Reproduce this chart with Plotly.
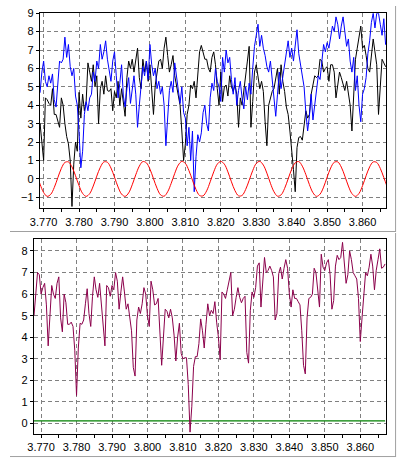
import plotly.graph_objects as go

# ---------------- data ----------------
x_start = 3.768
x_step = 0.0005
n_pts = 199
x = [round(x_start + x_step * i, 4) for i in range(n_pts)]

blue = [4.5, 4.6, 4.7, 5.8, 6.4, 5.3, 5.0, 5.6, 5.2, 5.7,
        4.3, 3.9, 5.2, 6.4, 6.3, 6.5, 7.7, 6.6, 7.3, 6.1,
        5.6, 6.0, 4.5, 4.0, 2.5, 0.6, 1.5, 3.5, 4.2, 3.7,
        4.4, 4.6, 5.8, 5.3, 6.4, 6.0, 7.3, 6.5, 6.9, 7.5,
        6.5, 6.0, 5.3, 6.4, 6.9, 5.6, 4.4, 5.2, 6.2, 4.5,
        3.9, 4.9, 5.5, 4.1, 4.8, 5.6, 4.6, 2.8, 4.0, 5.0,
        6.1, 5.6, 6.4, 5.4, 7.3, 6.2, 5.6, 6.0, 4.9, 5.3,
        4.6, 5.0, 4.0, 1.8, 3.6, 4.8, 5.3, 4.7, 6.3, 5.6,
        5.0, 4.1, 5.0, 3.6, 3.3, 1.8, 2.8, 1.0, 2.6, -0.7,
        1.2, 2.4, 2.0, 2.5, 3.6, 4.0, 3.0, 2.6, 4.4, 5.2,
        4.8, 6.0, 5.3, 5.0, 4.2, 6.6, 5.8, 7.0, 6.3, 6.6,
        5.4, 4.6, 5.5, 4.0, 4.8, 5.3, 4.4, 3.8, 5.0, 4.3,
        5.2, 4.6, 6.0, 7.2, 7.8, 8.4, 7.2, 7.8, 7.1, 6.7,
        6.1, 5.8, 6.4, 5.3, 4.5, 3.4, 4.6, 5.8, 4.9, 5.6,
        6.2, 7.0, 7.5, 6.6, 7.1, 6.4, 7.4, 8.1, 6.8, 6.2,
        5.8, 5.0, 3.6, 2.6, 3.4, 4.6, 3.2, 4.1, 4.9, 5.6,
        5.4, 6.6, 7.3, 6.9, 7.4, 7.1, 7.8, 8.3, 8.0, 8.8,
        8.4, 7.6, 8.3, 8.8, 8.0, 7.2, 7.6, 6.4, 5.8, 6.6,
        4.8, 5.6, 4.0, 3.1, 4.6, 4.9, 5.5, 6.8, 7.5, 8.5,
        9.0, 8.2, 9.0, 9.0, 8.4, 7.8, 8.7, 7.3, 7.3]

black = [3.5, 2.5, 3.0, 1.9, 1.0, 4.4, 4.3, 4.1, 4.0, 4.9,
         3.5, 3.5, 3.2, 2.8, 4.4, 4.0, 3.0, 2.3, 1.9, 1.0,
         -1.5, 0.8, 2.0, 1.5, 4.7, 3.3, 4.6, 3.7, 4.2, 6.3,
         5.8, 5.3, 6.2, 5.0, 5.6, 3.0, 4.9, 5.3, 4.6, 5.6,
         4.8, 4.75, 4.9, 3.7, 4.75, 4.4, 5.3, 4.0, 4.9, 4.0,
         3.4, 5.5, 6.4, 6.0, 6.5, 5.8, 6.6, 7.1, 5.5, 4.9,
         6.5, 5.8, 6.4, 5.3, 6.2, 4.6, 3.5, 5.1, 5.8, 6.4,
         6.5, 6.0, 7.1, 7.7, 6.7, 5.8, 6.2, 6.7, 5.6, 5.1,
         4.6, 4.0, 2.6, 1.0, 1.9, 3.5, 4.0, 5.1, 4.9, 5.3,
         4.4, 5.8, 6.9, 7.25, 6.9, 6.5, 6.5, 6.0, 5.8, 6.6,
         6.9, 6.2, 4.9, 4.0, 5.8, 4.2, 5.0, 5.1, 4.5, 5.6,
         5.0, 4.75, 5.1, 4.6, 2.8, 4.4, 4.0, 4.9, 5.6, 6.4,
         7.2, 2.8, 4.2, 5.8, 6.2, 5.6, 4.9, 5.3, 4.75, 3.1,
         1.8, 4.0, 4.4, 4.75, 4.9, 5.6, 6.0, 4.6, 6.2, 5.3,
         4.75, 3.9, 3.5, 2.6, 1.7, 0.5, -0.7, 1.7, 2.25, 2.3,
         2.1, 2.8, 3.7, 3.3, 3.5, 4.6, 5.2, 5.6, 5.5, 5.6,
         6.5, 6.4, 5.8, 6.0, 6.1, 5.3, 6.2, 6.2, 5.8, 4.4,
         5.1, 5.8, 5.5, 5.1, 4.8, 5.3, 4.5, 4.0, 2.6, 5.0,
         6.5, 7.1, 7.6, 8.3, 7.1, 7.25, 6.7, 6.0, 5.8, 6.9,
         7.6, 6.9, 6.2, 3.5, 4.9, 6.5, 6.3, 6.1, 6.2]

purple = [5.0, 6.0, 7.0, 6.9, 6.0, 6.3, 6.5, 5.5, 3.6, 5.0,
          6.4, 6.0, 5.8, 6.5, 6.8, 4.9, 4.25, 6.0, 5.6, 4.6,
          4.6, 4.7, 4.5, 3.4, 1.3, 3.5, 4.65, 4.6, 4.8, 5.55,
          6.25, 5.1, 4.5, 5.9, 6.8, 6.2, 5.85, 6.5, 5.5, 4.4,
          3.6, 6.4, 6.3, 5.9, 6.4, 6.2, 7.0, 6.6, 5.3, 6.1,
          6.8, 6.1, 5.3, 5.55, 5.0, 4.3, 2.6, 2.2, 4.8, 5.4,
          5.1, 5.55, 6.3, 6.0, 5.0, 4.5, 6.6, 6.2, 5.5, 5.55,
          5.8, 4.2, 2.7, 4.0, 5.3, 5.2, 4.9, 5.3, 4.9, 4.1,
          2.9, 4.0, 4.65, 3.25, 3.0, 3.05, 3.05, 1.8, -0.4, 0.8,
          2.65, 3.1, 3.1, 3.7, 4.85, 4.3, 3.5, 4.6, 5.55, 5.0,
          5.25, 5.1, 5.65, 4.7, 4.0, 2.95, 6.1, 6.0, 5.8, 6.2,
          6.7, 7.0, 5.0, 5.3, 5.85, 6.3, 5.85, 5.6, 5.8, 5.9,
          3.3, 2.8, 5.25, 6.1, 5.85, 6.3, 7.3, 7.45, 5.4, 6.7,
          7.7, 7.0, 7.1, 7.3, 7.1, 6.8, 4.8, 5.1, 6.95, 7.25,
          6.7, 7.2, 7.6, 7.2, 6.0, 5.4, 6.2, 5.8, 5.8, 5.65,
          5.5, 4.3, 2.7, 2.3, 4.9, 5.8, 5.85, 6.0, 7.2, 7.0,
          6.1, 5.4, 7.85, 7.25, 7.1, 7.45, 7.6, 6.9, 5.3, 5.7,
          7.3, 7.8, 7.6, 7.7, 8.4, 7.5, 6.5, 6.9, 8.0, 7.6,
          7.0, 6.85, 6.7, 5.8, 3.8, 4.9, 6.2, 7.0, 6.85, 7.25,
          7.85, 7.3, 6.2, 7.1, 7.6, 8.1, 7.2, 7.25, 7.4]

red_x_start = 3.768
red_x_step = 0.001
red = [0.25, -0.29, -0.74, -0.95, -0.84, -0.47, 0.06, 0.57, 0.89, 0.92,
       0.65, 0.17, -0.37, -0.79, -0.95, -0.80, -0.39, 0.15, 0.63, 0.92,
       0.90, 0.59, 0.09, -0.44, -0.83, -0.95, -0.76, -0.32, 0.22, 0.69,
       0.94, 0.87, 0.53, 0.01, -0.51, -0.87, -0.94, -0.70, -0.24, 0.30,
       0.75, 0.95, 0.84, 0.45, -0.07, -0.58, -0.90, -0.92, -0.65, -0.16,
       0.38, 0.80, 0.95, 0.80, 0.38, -0.16, -0.64, -0.92, -0.90, -0.58,
       -0.08, 0.45, 0.84, 0.95, 0.75, 0.31, -0.24, -0.70, -0.94, -0.87,
       -0.52, 0.00, 0.52, 0.87, 0.94, 0.69, 0.23, -0.31, -0.75, -0.95,
       -0.83, -0.45, 0.09, 0.59, 0.90, 0.92, 0.64, 0.15, -0.39, -0.80,
       -0.95, -0.79, -0.37, 0.17, 0.65, 0.92, 0.89, 0.57, 0.07, -0.46]
red_x = [round(red_x_start + red_x_step * k, 4) for k in range(len(red))]

green_level = [0.12] * len(x)

x_tick_step = 0.01
x_minor_step = 0.005
y_tick_step = 1

# ---------------- figure ----------------
W, H = 398, 459
fig = go.Figure()

fig.add_trace(go.Scatter(x=x, y=black, mode="lines", line=dict(color="#000000", width=1),
                         xaxis="x", yaxis="y", hoverinfo="skip"))
fig.add_trace(go.Scatter(x=x, y=blue, mode="lines", line=dict(color="#0000FF", width=1),
                         xaxis="x", yaxis="y", hoverinfo="skip"))
fig.add_trace(go.Scatter(x=red_x, y=red, mode="lines", line=dict(color="#FF0000", width=1, shape="spline"),
                         xaxis="x", yaxis="y", hoverinfo="skip"))

fig.add_trace(go.Scatter(x=x, y=green_level, mode="lines", line=dict(color="#008000", width=1.2),
                         xaxis="x2", yaxis="y2", hoverinfo="skip"))
fig.add_trace(go.Scatter(x=x, y=purple, mode="lines", line=dict(color="#8B004B", width=1),
                         xaxis="x2", yaxis="y2", hoverinfo="skip"))

font = dict(family="Liberation Sans, Arial, sans-serif", size=11, color="#000000")

common = dict(showline=True, linecolor="#000000", linewidth=1, mirror=True,
              ticks="outside", ticklen=3, tickcolor="#000000", tickwidth=1,
              showgrid=True, gridcolor="#808080", gridwidth=1, griddash="4px,3px",
              zeroline=False, tickfont=font, fixedrange=True)

xcommon = dict(common, dtick=x_tick_step, tick0=3.77, tickformat=".3f",
               minor=dict(dtick=x_minor_step, tick0=3.77, ticks="outside", ticklen=3,
                          tickcolor="#000000", showgrid=False))
ycommon = dict(common, dtick=y_tick_step, tick0=0)

fig.update_layout(
    width=W, height=H,
    margin=dict(l=0, r=0, t=0, b=0),
    paper_bgcolor="#FFFFFF", plot_bgcolor="#FFFFFF",
    showlegend=False,
    xaxis=dict(xcommon, domain=[30.5 / W, 386 / W], range=[3.7689, 3.8667], anchor="y"),
    yaxis=dict(ycommon, domain=[1 - 205 / H, 1 - 7.3 / H], range=[-1.6, 9.0], anchor="x"),
    xaxis2=dict(xcommon, domain=[24.5 / W, 386 / W], range=[3.76797, 3.86734], anchor="y2"),
    yaxis2=dict(ycommon, domain=[1 - 433.3 / H, 1 - 236 / H], range=[-0.47, 8.56], anchor="x2"),
)

border = dict(color="#A0A0A0", width=1)
fig.update_layout(shapes=[
    dict(type="line", xref="paper", yref="paper", x0=0, x1=396 / W, y0=1 - 228.5 / H, y1=1 - 228.5 / H, line=border),
    dict(type="line", xref="paper", yref="paper", x0=395.5 / W, x1=395.5 / W, y0=1 - 228.5 / H, y1=1, line=border),
    dict(type="line", xref="paper", yref="paper", x0=0, x1=396 / W, y0=1 - 456.5 / H, y1=1 - 456.5 / H, line=border),
    dict(type="line", xref="paper", yref="paper", x0=395.5 / W, x1=395.5 / W, y0=1 - 456.5 / H, y1=1 - 230 / H, line=border),
])

fig.write_html("out.html", config=dict(displayModeBar=False),
               post_script="document.body.style.margin='0';document.body.style.overflow='hidden';")
